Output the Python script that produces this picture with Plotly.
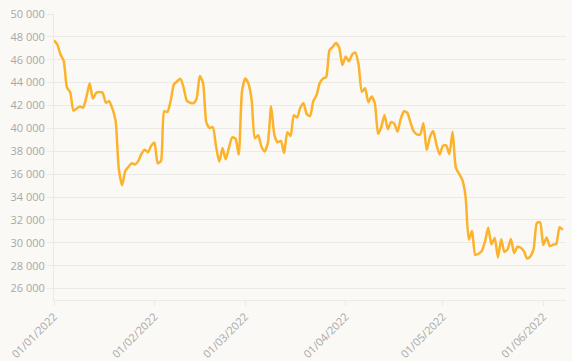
import pandas as pd
import plotly.graph_objects as go

start_date = "2022-01-01"
prices = [
    47686, 47345, 46458, 45897, 43569, 43160, 41558, 41734, 41912, 41821,
    42736, 43949, 42592, 43099, 43178, 43113, 42250, 42375, 41744, 40681,
    36457, 35030, 36276, 36654, 36954, 36852, 37138, 37784, 38138, 37917,
    38483,
    38743, 36952, 37154, 41501, 41441, 42412, 43841, 44118, 44338, 43565,
    42407, 42244, 42197, 42586, 44575, 43961, 40538, 40030, 40122, 38431,
    37075, 38286, 37296, 38332, 39214, 39105, 37709, 43193,
    44354, 43924, 42451, 39137, 39400, 38420, 37988, 38730, 41941, 39439,
    38794, 38904, 37849, 39666, 39338, 41143, 40951, 41801, 42190, 41247,
    41077, 42358, 42892, 43960, 44348, 44500, 46820, 47128, 47465, 47062,
    45538,
    46281, 45868, 46453, 46622, 45555, 43206, 43503, 42287, 42782, 42207,
    39521, 40127, 41166, 39935, 40553, 40424, 39716, 40826, 41502, 41374,
    40527, 39740, 39486, 39469, 40458, 38117, 39241, 39773, 38609, 37714,
    38469, 38529, 37750, 39698, 36575, 36040, 35501, 34059, 30296, 31023,
    28936, 29047, 29283, 30101, 31305, 29862, 30425, 28720, 30315, 29201,
    29445, 30324, 29098, 29655, 29562, 29267, 28627, 28814, 29445, 31726,
    31792,
    29799, 30467, 29704, 29832, 29906, 31370, 31125,
]
dates = pd.date_range(start_date, periods=len(prices), freq="D")
tick_dates = ["2022-01-01", "2022-02-01", "2022-03-01", "2022-04-01", "2022-05-01", "2022-06-01"]
tick_labels = ["01/01/2022", "01/02/2022", "01/03/2022", "01/04/2022", "01/05/2022", "01/06/2022"]
y_ticks = list(range(26000, 50001, 2000))

fig = go.Figure()
fig.add_trace(go.Scatter(
    x=dates, y=prices, mode="lines",
    line=dict(color="#FDB22B", width=2.5, shape="spline", smoothing=0.6),
    hoverinfo="x+y",
))

grid = "#EBEAE6"
fig.update_layout(
    width=572, height=361,
    margin=dict(l=54, r=6, t=14, b=61),
    paper_bgcolor="#FAF9F6", plot_bgcolor="#FAF9F6",
    separators=". ",
    showlegend=False,
    font=dict(family="Open Sans", size=11, color="#A8A8A8"),
)
fig.update_xaxes(
    range=["2022-01-01", "2022-06-08"],
    tickvals=tick_dates, ticktext=tick_labels, tickangle=-45,
    showgrid=False, showline=True, linecolor=grid, linewidth=1,
    ticks="outside", ticklen=5, tickcolor=grid,
    zeroline=False, automargin=False,
)
fig.update_yaxes(
    range=[25000, 50000],
    tickvals=y_ticks, tickformat=",d",
    showgrid=True, gridcolor=grid, gridwidth=1,
    showline=True, linecolor=grid, linewidth=1,
    ticks="outside", ticklen=6, tickcolor=grid,
    zeroline=False, automargin=False,
)

fig.write_html(
    "out.html",
    config={"displayModeBar": False},
    post_script="document.body.style.margin='0';document.body.style.background='#FAF9F6';",
)
